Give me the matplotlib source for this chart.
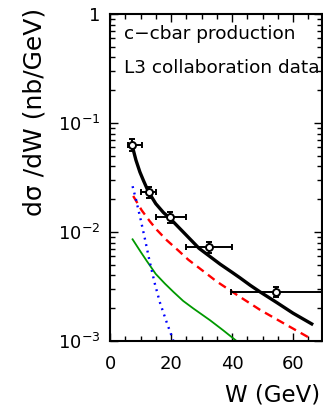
import matplotlib
matplotlib.use("Agg")
import matplotlib.pyplot as plt
import numpy as np
from matplotlib.ticker import FixedLocator, FixedFormatter, MultipleLocator, LogLocator, NullFormatter

plt.rcParams['font.family'] = ['DejaVu Sans']
plt.rcParams['mathtext.fontset'] = 'dejavusans'

# L3 data points: W bin centre, bin edges, cross section and error
w_data = [7.2, 12.8, 19.7, 32.5, 54.4]
w_lo = [5.9, 10.2, 15.0, 25.0, 39.7]
w_hi = [10.5, 15.1, 25.0, 40.0, 70.0]
xs_data = [0.063, 0.0233, 0.0137, 0.00728, 0.00282]
xs_err = [0.008, 0.0027, 0.0016, 0.0009, 0.0003]

# model curves
w_total = [7.2, 8.5, 9.8, 11, 12.6, 15, 17.5, 19.7, 24, 29.2, 33, 36.1, 40, 42.6, 46, 49.2, 54.6, 60, 66.6]
xs_total = [0.0631, 0.0457, 0.0355, 0.0295, 0.0234, 0.0182, 0.0151, 0.0133, 0.0100, 0.00708,
            0.00589, 0.00507, 0.00427, 0.0038, 0.00324, 0.00282, 0.00226, 0.0018, 0.00141]

w_red = [7.6, 10.4, 13, 15.3, 18.6, 22.4, 25.7, 30.6, 35, 42.6, 49.2, 57, 65.6]
xs_red = [0.0214, 0.0158, 0.0126, 0.0105, 0.00841, 0.00676, 0.00556, 0.00437, 0.00351,
          0.00254, 0.00193, 0.00145, 0.00106]

w_green = [7.4, 10, 12, 15, 18, 20.8, 24, 27.3, 32.8, 37, 41.5]
xs_green = [0.00857, 0.00661, 0.00545, 0.00412, 0.00336, 0.00282, 0.00233, 0.00199,
            0.00155, 0.00126, 0.001]

w_blue = [7.4, 8.5, 10, 11.5, 13, 14.75, 16.4, 18.6, 20.8]
xs_blue = [0.0263, 0.020, 0.0132, 0.00851, 0.00537, 0.00331, 0.00224, 0.00148, 0.001]

y_ticks = [1e-3, 1e-2, 1e-1, 1]
y_ticklabels = ['$10^{-3}$', '$10^{-2}$', '$10^{-1}$', '1']

fig = plt.figure(figsize=(3.23, 4.13), dpi=100)
ax = fig.add_axes([110/323, 72/413, 212/323, 327/413])

ax.plot(w_total, xs_total, color='black', lw=2.4, solid_capstyle='butt')
ax.plot(w_red, xs_red, color='red', lw=1.7, dashes=(3.5, 2.3))
ax.plot(w_green, xs_green, color='#009900', lw=1.3)
ax.plot(w_blue, xs_blue, color='blue', lw=1.7, dashes=(0.8, 2.0))

xerr = [np.array(w_data) - np.array(w_lo), np.array(w_hi) - np.array(w_data)]
ax.errorbar(w_data, xs_data, xerr=xerr, yerr=xs_err, fmt='o', color='black',
            mfc='white', mec='black', ms=5, mew=1.4, elinewidth=1.4, capsize=2.5, capthick=1.4)

ax.set_yscale('log')
ax.set_xlim(0, 69.5)
ax.set_ylim(1e-3, 1)

ax.yaxis.set_major_locator(FixedLocator(y_ticks))
ax.yaxis.set_major_formatter(FixedFormatter(y_ticklabels))
ax.yaxis.set_minor_locator(LogLocator(base=10, subs=np.arange(2, 10)))
ax.yaxis.set_minor_formatter(NullFormatter())
ax.xaxis.set_major_locator(MultipleLocator(20))
ax.xaxis.set_minor_locator(MultipleLocator(5))

ax.tick_params(which='both', direction='in', top=True, right=True, width=1.0)
ax.tick_params(which='major', length=6, labelsize=13)
ax.tick_params(which='minor', length=3.5)
ax.tick_params(axis='x', which='major', pad=10)
ax.tick_params(axis='y', which='major', pad=7)
for s in ax.spines.values():
    s.set_linewidth(1.5)

ax.text(0.065, 0.94, 'c\u2212cbar production', transform=ax.transAxes, fontsize=13.3, va='center')
ax.text(0.065, 0.835, 'L3 collaboration data', transform=ax.transAxes, fontsize=13.3, va='center')

fig.text(320/323, 1 - 395/413, 'W (GeV)', ha='right', va='center', fontsize=16.5)
fig.text(35/323, 1 - 112/413, 'd\u03c3 /dW (nb/GeV)', ha='center', va='center', rotation=90, fontsize=18)

fig.savefig('out.png', dpi=100)
